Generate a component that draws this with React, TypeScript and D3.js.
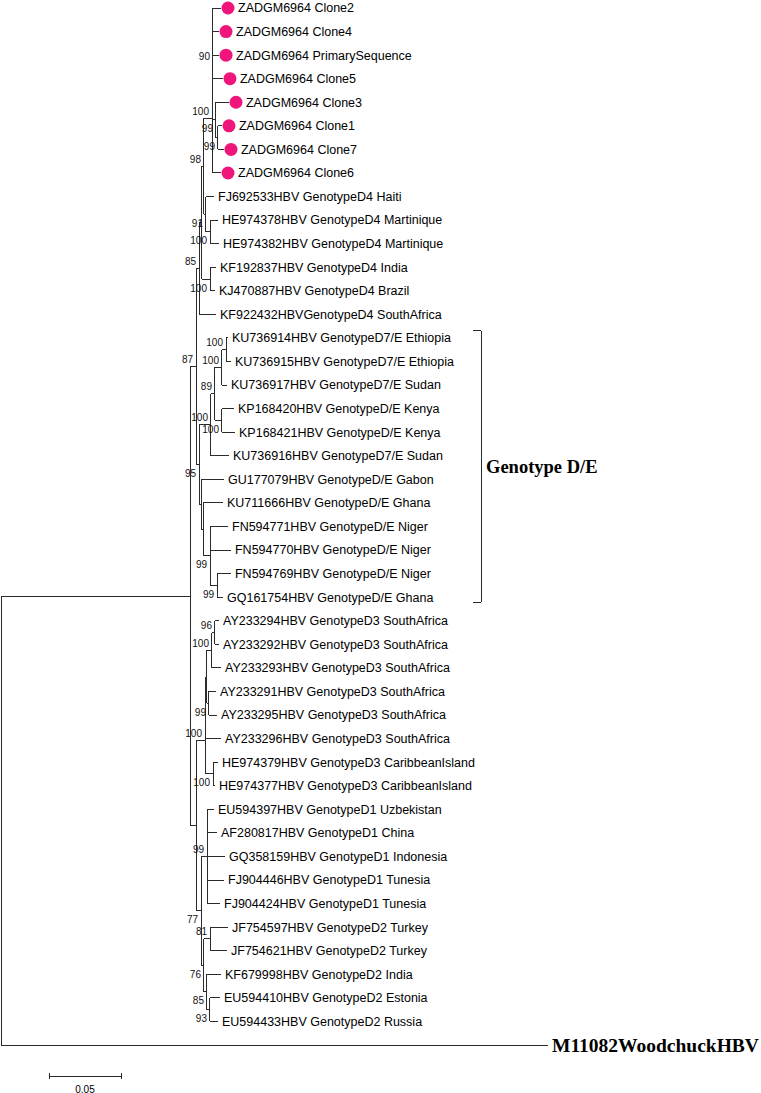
import React from "react";
import * as d3 from "d3";

// ---------- DATA ----------
// Leaf ids (top to bottom) and their printed names
const taxonIds = [
  "C2", "C4", "PS", "C5", "C3", "C1", "C7", "C6",
  "FJ692533", "HE974378", "HE974382", "KF192837", "KJ470887", "KF922432",
  "KU736914", "KU736915", "KU736917", "KP168420", "KP168421", "KU736916",
  "GU177079", "KU711666", "FN594771", "FN594770", "FN594769", "GQ161754",
  "AY233294", "AY233292", "AY233293", "AY233291", "AY233295", "AY233296",
  "HE974379", "HE974377", "EU594397", "AF280817", "GQ358159", "FJ904446",
  "FJ904424", "JF754597", "JF754621", "KF679998", "EU594410", "EU594433",
  "M11082",
];
const taxonLabels = [
  "ZADGM6964 Clone2", "ZADGM6964 Clone4", "ZADGM6964 PrimarySequence", "ZADGM6964 Clone5",
  "ZADGM6964 Clone3", "ZADGM6964 Clone1", "ZADGM6964 Clone7", "ZADGM6964 Clone6",
  "FJ692533HBV GenotypeD4 Haiti", "HE974378HBV GenotypeD4 Martinique", "HE974382HBV GenotypeD4 Martinique",
  "KF192837HBV GenotypeD4 India", "KJ470887HBV GenotypeD4 Brazil", "KF922432HBVGenotypeD4 SouthAfrica",
  "KU736914HBV GenotypeD7/E Ethiopia", "KU736915HBV GenotypeD7/E Ethiopia", "KU736917HBV GenotypeD7/E Sudan",
  "KP168420HBV GenotypeD/E Kenya", "KP168421HBV GenotypeD/E Kenya", "KU736916HBV GenotypeD7/E Sudan",
  "GU177079HBV GenotypeD/E Gabon", "KU711666HBV GenotypeD/E Ghana", "FN594771HBV GenotypeD/E Niger",
  "FN594770HBV GenotypeD/E Niger", "FN594769HBV GenotypeD/E Niger", "GQ161754HBV GenotypeD/E Ghana",
  "AY233294HBV GenotypeD3 SouthAfrica", "AY233292HBV GenotypeD3 SouthAfrica", "AY233293HBV GenotypeD3 SouthAfrica",
  "AY233291HBV GenotypeD3 SouthAfrica", "AY233295HBV GenotypeD3 SouthAfrica", "AY233296HBV GenotypeD3 SouthAfrica",
  "HE974379HBV GenotypeD3 CaribbeanIsland", "HE974377HBV GenotypeD3 CaribbeanIsland",
  "EU594397HBV GenotypeD1 Uzbekistan", "AF280817HBV GenotypeD1 China", "GQ358159HBV GenotypeD1 Indonesia",
  "FJ904446HBV GenotypeD1 Tunesia", "FJ904424HBV GenotypeD1 Tunesia", "JF754597HBV GenotypeD2 Turkey",
  "JF754621HBV GenotypeD2 Turkey", "KF679998HBV GenotypeD2 India", "EU594410HBV GenotypeD2 Estonia",
  "EU594433HBV GenotypeD2 Russia", "M11082WoodchuckHBV",
];
const highlightedTaxa = ["C2", "C4", "PS", "C5", "C3", "C1", "C7", "C6"];
const outgroupTaxa = ["M11082"];

// Tree (Newick): branch lengths in substitutions/site, internal labels = bootstrap support
const treeNewick = `(
(
 (
  (
   (
    (
     (
      (C2:0.00556,C4:0.00417,PS:0.00417,C5:0.00694,(C3:0.00903,(C1:0.00278,C7:0.00417)99:0.00139)99:0.00208)90:0.00069,
      C6:0.00625
     )100:0.00556,
     (FJ692533:0.00556,(HE974378:0.00556,HE974382:0.00625)100:0.00278)91:0.00139
    )98:0.00139,
    (KF192837:0.00417,KJ470887:0.00347)100:0.00556
   ):0.00208,
   KF922432:0.01181
  )85:0.00208,
  (
   (
    (
     ((KU736914:0.00139,KU736915:0.00347)100:0.00278,KU736917:0.00347)100:0.00486,
     (KP168420:0.00833,KP168421:0.00903)100:0.00486
    )89:0.00278,
    KU736916:0.0125
   )100:0.00833,
   (
    GU177079:0.01597,
    (
     KU711666:0.01389,
     (FN594771:0.0125,FN594770:0.01458,(FN594769:0.00972,GQ161754:0.00417)99:0.00486)99:0.00486
    ):0.00139
   ):0.00139
  )95:0.00208
 )87:0.00417,
 (
  (
   (
    (
     ((AY233294:0.00278,AY233292:0.00278)96:0.00208,AY233293:0.00625)100:0.00347,
     (AY233291:0.00486,AY233295:0.00556)99:0.00139
    ):0.00069,
    AY233296:0.01042
   ):0.00069,
   (HE974379:0.00347,HE974377:0.00139)100:0.00556
  )100:0.00625,
  (
   (EU594397:0.00486,AF280817:0.00694,GQ358159:0.0125,FJ904446:0.01181,FJ904424:0.00903)99:0.00417,
   (
    (JF754597:0.0125,JF754621:0.01181)81:0.00417,
    (KF679998:0.00972,(EU594410:0.00694,EU594433:0.00556)93:0.00208)85:0.00208
   )76:0.00208
  )77:0.00347
 ):0.00417
):0.13125,
M11082:0.37986
);`;

// Clade annotation
const cladeName = "Genotype D/E";
const cladeFirst = "KU736914";
const cladeLast = "GQ161754";

// Scale bar
const scaleBarValue = 0.05;
const scaleBarText = "0.05";

// ---------- PARSER ----------
type TNode = { name: string; length: number; support: number | null; children: TNode[] };

function parseNewick(src: string): TNode {
  const s = src.replace(/\s+/g, "");
  let i = 0;
  function node(): TNode {
    const n: TNode = { name: "", length: 0, support: null, children: [] };
    if (s[i] === "(") {
      i++;
      n.children.push(node());
      while (s[i] === ",") {
        i++;
        n.children.push(node());
      }
      i++; // ')'
    }
    let label = "";
    while (i < s.length && !",():;".includes(s[i])) label += s[i++];
    if (s[i] === ":") {
      i++;
      let num = "";
      while (i < s.length && !",();".includes(s[i])) num += s[i++];
      n.length = parseFloat(num);
    }
    if (n.children.length) n.support = label ? +label : null;
    else n.name = label;
    return n;
  }
  return node();
}

// ---------- LAYOUT ----------
const W = 761;
const H = 1093;
const SANS = "'Liberation Sans', Arial, Helvetica, sans-serif";
const SERIF = "'Liberation Serif', 'Times New Roman', serif";
const LINE = "#2b2b2b";
const PINK = "#f0157a";

export default function App() {
  const data = parseNewick(treeNewick);
  const root = d3.hierarchy<TNode>(data, (d) => (d.children.length ? d.children : null));

  root.each((n: any) => {
    n.dist = n.parent ? n.parent.dist + n.data.length : 0;
  });

  const leaves = root.leaves();
  const yScale = d3.scaleLinear().domain([0, leaves.length - 1]).range([8, 1045]);
  const xScale = d3.scaleLinear().domain([0, scaleBarValue]).range([1, 73]);

  leaves.forEach((l: any, i) => {
    l.py = yScale(i);
  });
  root.eachAfter((n: any) => {
    if (n.children) {
      const c = n.children;
      n.py = (c[0].py + c[c.length - 1].py) / 2;
    }
  });

  const nodes: any[] = root.descendants();
  const lines: JSX.Element[] = [];
  nodes.forEach((n: any, k) => {
    const x = xScale(n.dist);
    if (n.parent) {
      lines.push(
        <line key={"h" + k} x1={xScale(n.parent.dist)} x2={x} y1={n.py} y2={n.py} stroke={LINE} strokeWidth={1} />
      );
    }
    if (n.children) {
      const c = n.children;
      lines.push(
        <line key={"v" + k} x1={x} x2={x} y1={c[0].py} y2={c[c.length - 1].py} stroke={LINE} strokeWidth={1} />
      );
    }
  });

  const supports: JSX.Element[] = [];
  nodes.forEach((n: any, k) => {
    if (!n.children || n.data.support == null || !n.parent) return;
    const sib = n.parent.children;
    const idx = sib.indexOf(n);
    let cy = n.py;
    if (idx === 0) cy = n.py - 7;
    else if (idx === sib.length - 1) cy = n.py + 9;
    supports.push(
      <text key={"s" + k} x={xScale(n.dist) - 3} y={cy} dy="0.35em" textAnchor="end" fontSize={10} fontFamily={SANS} fill="#111">
        {n.data.support}
      </text>
    );
  });

  const leafEls: JSX.Element[] = [];
  leaves.forEach((l: any, i) => {
    const id = l.data.name;
    const idx = taxonIds.indexOf(id);
    const label = idx >= 0 ? taxonLabels[idx] : id;
    const x = xScale(l.dist);
    if (highlightedTaxa.includes(id)) {
      leafEls.push(<circle key={"c" + i} cx={x + 7} cy={l.py} r={6.5} fill={PINK} />);
      leafEls.push(
        <text key={"t" + i} x={x + 17} y={l.py} dy="0.35em" fontSize={12.5} fontFamily={SANS} fill="#000">
          {label}
        </text>
      );
    } else if (outgroupTaxa.includes(id)) {
      leafEls.push(
        <text key={"t" + i} x={x + 4} y={l.py} dy="0.35em" fontSize={19.5} fontWeight="bold" fontFamily={SERIF} fill="#000">
          {label}
        </text>
      );
    } else {
      leafEls.push(
        <text key={"t" + i} x={x + 4} y={l.py} dy="0.35em" fontSize={12.5} fontFamily={SANS} fill="#000">
          {label}
        </text>
      );
    }
  });

  const firstLeaf: any = leaves.find((l) => l.data.name === cladeFirst);
  const lastLeaf: any = leaves.find((l) => l.data.name === cladeLast);
  const bx = 481;
  const by1 = firstLeaf.py - 7;
  const by2 = lastLeaf.py + 5;

  const sbY = 1076;
  const sbX1 = xScale(0) + 48;
  const sbX2 = sbX1 + (xScale(scaleBarValue) - xScale(0));

  return (
    <svg width={W} height={H} style={{ position: "absolute", left: 0, top: 0, background: "#fff" }} shapeRendering="crispEdges">
      <g>{lines}</g>
      <g shapeRendering="auto">{leafEls}</g>
      <g shapeRendering="auto">{supports}</g>
      <g>
        <line x1={bx - 8} x2={bx} y1={by1} y2={by1} stroke={LINE} />
        <line x1={bx} x2={bx} y1={by1} y2={by2} stroke={LINE} />
        <line x1={bx - 8} x2={bx} y1={by2} y2={by2} stroke={LINE} />
        <text x={bx + 5} y={(by1 + by2) / 2} dy="0.35em" fontSize={18.5} fontWeight="bold" fontFamily={SERIF} fill="#000" shapeRendering="auto">
          {cladeName}
        </text>
      </g>
      <g>
        <line x1={sbX1} x2={sbX2} y1={sbY} y2={sbY} stroke={LINE} />
        <line x1={sbX1} x2={sbX1} y1={sbY - 3} y2={sbY + 3} stroke={LINE} />
        <line x1={sbX2} x2={sbX2} y1={sbY - 3} y2={sbY + 3} stroke={LINE} />
        <text x={(sbX1 + sbX2) / 2} y={sbY + 13} dy="0.35em" textAnchor="middle" fontSize={10} fontFamily={SANS} fill="#000" shapeRendering="auto">
          {scaleBarText}
        </text>
      </g>
    </svg>
  );
}
